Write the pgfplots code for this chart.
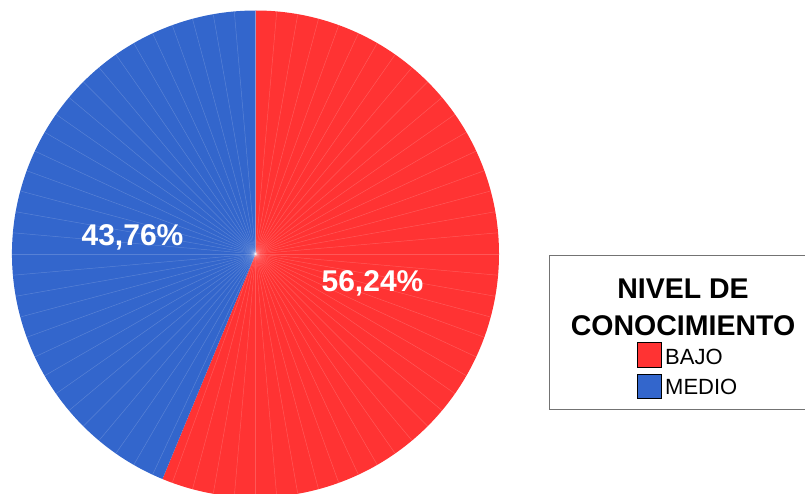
\documentclass[border=0pt]{standalone}
\usepackage{pgfplots}
\pgfplotsset{compat=1.18}
\usepackage{pgfplotstable}
\usepackage{fontspec}
\setmainfont{Liberation Sans}
\definecolor{bajo}{RGB}{255,51,51}
\definecolor{medio}{RGB}{51,102,204}
\pgfplotstableread{
label value
BAJO 56.24
MEDIO 43.76
}\piedata
\begin{document}
\begin{tikzpicture}
\pgfplotstablegetelem{0}{value}\of\piedata \global\let\va\pgfplotsretval
\pgfplotstablegetelem{1}{value}\of\piedata \global\let\vb\pgfplotsretval
\begin{axis}[
  at={(0,0)}, anchor=south west,
  scale only axis, width=805pt, height=493pt,
  xmin=0, xmax=805, ymin=0, ymax=493,
  hide axis, clip=true,
]
% red slice: clockwise from 12 o'clock
\fill[bajo] (axis cs:255.5,239) -- ++(90:243.5pt)
  arc[start angle=90, end angle={90-3.6*\va}, radius=243.5pt] -- cycle;
% blue slice
\fill[medio] (axis cs:255.5,239) -- ++({90-3.6*\va}:243.5pt)
  arc[start angle={90-3.6*\va}, end angle={90-3.6*\va-3.6*\vb}, radius=243.5pt] -- cycle;
\pgfplotsinvokeforeach{0,5,...,355}{
  \draw[white, opacity=0.18, line width=0.5pt] (axis cs:255.5,239) -- ++(#1:243.5pt);
}
\node[anchor=base, text=white, font=\fontsize{30}{36}\selectfont\bfseries] at (axis cs:132.5,247) {43,76\%};
\node[anchor=base, text=white, font=\fontsize{30}{36}\selectfont\bfseries] at (axis cs:372.5,201) {56,24\%};
\end{axis}
% legend
\draw[black!55, line width=1pt] (549pt,237pt) rectangle (807pt,84pt);
\node[anchor=base, font=\fontsize{28.5}{34}\selectfont\bfseries] at (683pt,195pt) {NIVEL DE};
\node[anchor=base, font=\fontsize{28.5}{34}\selectfont\bfseries] at (683pt,158pt) {CONOCIMIENTO};
\draw[fill=bajo, draw=black, line width=0.6pt] (637pt,151pt) rectangle (661pt,126pt);
\draw[fill=medio, draw=black, line width=0.6pt] (637pt,119pt) rectangle (661pt,95pt);
\node[anchor=base west, inner sep=0pt, font=\fontsize{22}{26}\selectfont] at (665pt,129pt) {BAJO};
\node[anchor=base west, inner sep=0pt, font=\fontsize{22}{26}\selectfont] at (665pt,99pt) {MEDIO};
\pgfresetboundingbox
\useasboundingbox (0,0) rectangle (805pt,493pt);
\end{tikzpicture}
\end{document}
